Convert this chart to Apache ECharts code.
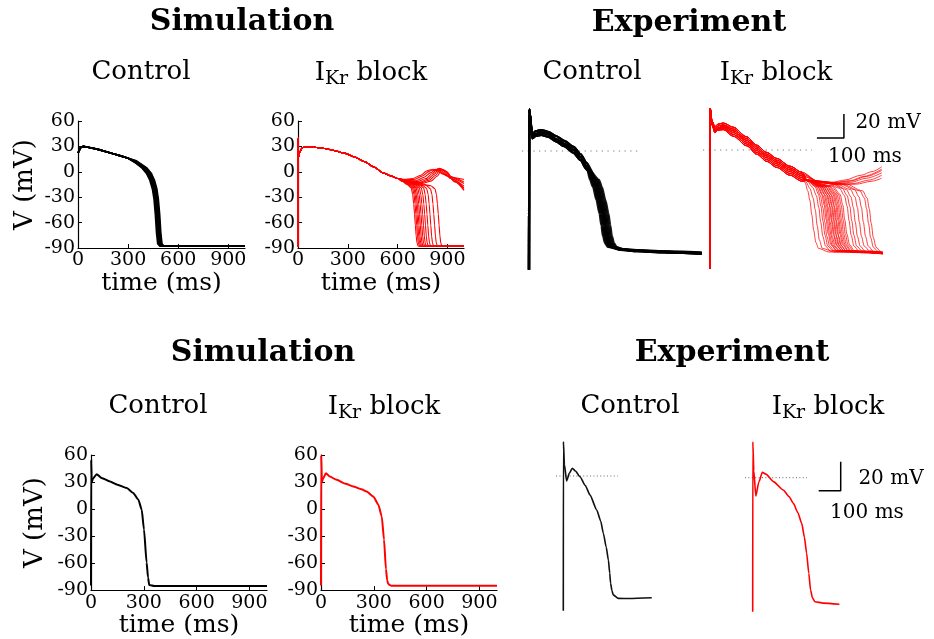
<!DOCTYPE html>
<html>
<head>
<meta charset="utf-8">
<script src="https://cdn.jsdelivr.net/npm/echarts@6/dist/echarts.min.js"></script>
<style>
  html, body { margin: 0; padding: 0; background: #fff; }
  #main { width: 934px; height: 639px; }
</style>
</head>
<body>
<div id="main"></div>
<script>
// ---------- Simulation axes ----------
const simTimeTicks = [0, 300, 600, 900];
const simVoltTicks = [-90, -60, -30, 0, 30, 60];

// ---------- Upper row: simulation, control (ensemble, black) ----------
const simCtrlPlateau = [[0,22],[4,24],[15,28.5],[30,30],[60,29],[120,26.5],[200,22],[260,18.5],[300,16]];
const simCtrlRepol = [
  [[340,11],[380,5],[410,-2],[430,-10],[445,-20],[455,-32],[463,-50],[470,-72],[477,-85],[490,-88],[1000,-88]],
  [[340,11.5],[385,5],[415,-2],[435,-10],[450,-20],[460,-32],[468,-50],[475,-72],[482,-85],[495,-88],[1000,-88]],
  [[340,12],[390,5],[420,-2],[440,-10],[455,-20],[465,-32],[473,-50],[480,-72],[487,-85],[500,-88],[1000,-88]],
  [[345,12],[395,5],[425,-2],[445,-10],[460,-20],[469,-32],[477,-50],[484,-72],[491,-85],[505,-88],[1000,-88]],
  [[345,12.5],[400,5],[430,-2],[449,-10],[464,-20],[473,-32],[481,-50],[488,-72],[495,-85],[508,-88],[1000,-88]],
  [[350,12.5],[405,5],[435,-2],[453,-10],[468,-20],[477,-32],[485,-50],[492,-72],[499,-85],[512,-88],[1000,-88]],
  [[350,13],[410,5],[440,-2],[458,-10],[472,-20],[481,-32],[489,-50],[496,-72],[503,-85],[515,-88],[1000,-88]]
];

// ---------- Upper row: simulation, IKr block (ensemble, red) ----------
const simBlockPlateau = [[0,-88],[1,40],[4,18],[10,23],[25,28.5],[50,29.5],[100,29],[160,27.5],[220,25],[280,22],[340,17.5],[400,12],[455,6],[510,-1],[560,-5],[600,-8]];
const simBlockEAD = [
  [[640,-9],[690,-8],[740,-4],[775,1],[800,2.5],[830,1.5],[880,-3],[940,-7],[1000,-9]],
  [[640,-9.5],[700,-9],[750,-5],[790,0.5],[815,3],[845,1.5],[900,-5],[1000,-12]],
  [[640,-10],[710,-10.5],[760,-6.5],[800,-1],[830,3],[860,1.5],[910,-6],[1000,-14]],
  [[640,-10.5],[720,-11.5],[770,-8],[810,-2],[840,3.5],[870,2],[920,-8],[1000,-17]],
  [[640,-11],[730,-12.5],[780,-9],[820,-3],[850,4],[880,2],[930,-9],[1000,-19]],
  [[640,-11],[740,-13],[790,-10],[830,-4],[858,3.5],[888,1],[940,-11],[1000,-21]],
  [[640,-11.5],[750,-13.5],[800,-11],[840,-5],[865,3],[895,0],[945,-12],[1000,-22]]
];
const simBlockRepol = [
  [[630,-11.5],[657,-15],[682,-19],[691,-27],[697,-38],[702,-50],[707,-63],[712,-76],[717,-84],[724,-88],[1000,-88]],
  [[630,-11.5],[665,-15],[690,-19],[699,-27],[705,-38],[710,-50],[715,-63],[720,-76],[725,-84],[732,-88],[1000,-88]],
  [[630,-11],[672,-15],[697,-19],[706,-27],[712,-38],[717,-50],[722,-63],[727,-76],[732,-84],[739,-88],[1000,-88]],
  [[635,-11],[679,-15],[704,-19],[713,-27],[719,-38],[724,-50],[729,-63],[734,-76],[739,-84],[746,-88],[1000,-88]],
  [[640,-11],[687,-15],[712,-19],[721,-27],[727,-38],[732,-50],[737,-63],[742,-76],[747,-84],[754,-88],[1000,-88]],
  [[645,-11],[696,-15],[721,-19],[730,-27],[736,-38],[741,-50],[746,-63],[751,-76],[756,-84],[763,-88],[1000,-88]],
  [[650,-11.5],[706,-15],[731,-19],[740,-27],[746,-38],[751,-50],[756,-63],[761,-76],[766,-84],[773,-88],[1000,-88]],
  [[660,-12],[718,-15.5],[743,-19],[752,-27],[758,-38],[763,-50],[768,-63],[773,-76],[778,-84],[785,-88],[1000,-88]],
  [[670,-12],[732,-15.5],[757,-19],[766,-27],[772,-38],[777,-50],[782,-63],[787,-76],[792,-84],[799,-88],[1000,-88]],
  [[680,-12.5],[750,-16],[775,-19.5],[784,-27],[790,-38],[795,-50],[800,-63],[805,-76],[810,-84],[817,-88],[1000,-88]],
  [[700,-13],[773,-16],[798,-20],[807,-27],[813,-38],[818,-50],[823,-63],[828,-76],[833,-84],[840,-88],[1000,-88]],
  [[720,-13],[800,-16.5],[825,-20],[834,-27],[840,-38],[845,-50],[850,-63],[855,-76],[860,-84],[867,-88],[1000,-88]]
];

// ---------- Upper row: recorded, control (ensemble, black) ----------
const expCtrlOnset = [
  [[0,-99],[0.6,35],[12,12],[25,14],[45,15.5],[70,14],[100,10],[130,6],[165,1],[190,-5],[214,-13]],
  [[0,-99],[0.6,35],[12,14],[25,16.5],[45,17.5],[70,16],[100,12.5],[130,8.5],[165,3.5],[190,-2.5],[214,-10]],
  [[0,-99],[0.6,35],[12,10.5],[25,12.5],[45,13.5],[70,12],[100,8],[130,4],[165,-1.5],[190,-7.5],[214,-15.5]]
];
const expCtrlRepol = [
  [[226,-24],[237,-30],[250,-41],[261,-52],[268,-62],[274,-71],[282,-77],[292,-80],[340,-82],[400,-83],[500,-84],[640,-85]],
  [[230,-24],[241,-30],[254,-41],[265,-52],[272,-62],[278,-71],[286,-77],[296,-80],[340,-82.5],[400,-83],[500,-84.5],[640,-85.5]],
  [[234,-24],[245,-30],[258,-41],[269,-52],[276,-62],[282,-71],[290,-77],[300,-80],[340,-82],[400,-83.5],[500,-84],[640,-85]],
  [[237,-24],[248,-30],[261,-41],[272,-52],[279,-62],[285,-71],[293,-77],[303,-80],[340,-81.5],[400,-82.5],[500,-83.5],[640,-84.5]],
  [[240,-24],[251,-30],[264,-41],[275,-52],[282,-62],[288,-71],[296,-77],[306,-80],[340,-82],[400,-83],[500,-84],[640,-85]],
  [[243,-24],[254,-30],[267,-41],[278,-52],[285,-62],[291,-71],[299,-77],[309,-80],[340,-82.5],[400,-83.5],[500,-84.5],[640,-85.5]],
  [[246,-24],[257,-30],[270,-41],[281,-52],[288,-62],[294,-71],[302,-77],[312,-80],[340,-82],[400,-83],[500,-84],[640,-85]],
  [[250,-24],[261,-30],[274,-41],[285,-52],[292,-62],[298,-71],[306,-77],[316,-80],[345,-82],[400,-83],[500,-84],[640,-85.5]],
  [[254,-24],[265,-30],[278,-41],[289,-52],[296,-62],[302,-71],[310,-77],[320,-80],[350,-82],[400,-83],[500,-84],[640,-85]],
  [[259,-24],[270,-30],[283,-41],[294,-52],[301,-62],[307,-71],[315,-77],[325,-80],[355,-82.5],[400,-83.5],[500,-84.5],[640,-85.5]]
];

// ---------- Upper row: recorded, IKr block (ensemble, red) ----------
// onset + plateau variants, ordered from lower to higher plateau
const expBlockOnset = [
  [[0,-99],[0.6,35],[8,21],[18,15],[30,17],[49,18],[86,13],[136,5],[173,-2],[210,-8],[247,-13],[296,-19.5],[340,-24.5]],
  [[0,-99],[0.6,35],[8,20.5],[18,14.5],[30,16.5],[49,17],[86,11.5],[136,3.5],[173,-3.5],[210,-9.5],[247,-14.5],[296,-21],[340,-26]],
  [[0,-99],[0.6,35],[8,21.5],[18,15.5],[30,17.5],[49,19],[86,14.5],[136,6.5],[173,-0.5],[210,-6.5],[247,-11.5],[296,-18],[340,-23]],
  [[0,-99],[0.6,35],[8,22],[18,16.5],[30,18.5],[49,20],[86,16],[136,8],[173,1],[210,-5],[247,-10],[296,-16.5],[340,-21.5]],
  [[0,-99],[0.6,35],[8,23],[18,18],[30,20],[49,21],[86,17.5],[136,9.5],[173,2.5],[210,-3.5],[247,-8.5],[296,-15],[340,-20]],
  [[0,-99],[0.6,35],[8,24],[18,19.5],[30,21.5],[49,22.5],[86,19],[136,11],[173,4],[210,-2],[247,-7],[296,-13.5],[340,-18.5]]
];
const expBlockRepol = [
  [[352,-27],[362,-34],[370,-42],[377,-54],[384,-67],[392,-77],[402,-82],[440,-85],[640,-86]],
  [[355,-26.5],[370,-32],[382,-40],[390,-50],[397,-63],[405,-75],[416,-82],[460,-85],[640,-86.5]],
  [[360,-26],[380,-31],[394,-38],[403,-48],[410,-60],[418,-72],[428,-80],[445,-84],[640,-86]],
  [[360,-25.5],[388,-30],[402,-37],[411,-47],[418,-59],[426,-71],[436,-80],[455,-84],[640,-85.5]],
  [[360,-25.5],[395,-31],[409,-38],[418,-48],[425,-60],[433,-72],[443,-80],[462,-84.5],[640,-86]],
  [[360,-25],[398,-30],[414,-37],[423,-46],[430,-58],[438,-70],[448,-79],[468,-84],[640,-86.5]],
  [[360,-25.5],[402,-31],[419,-38],[428,-47],[435,-59],[443,-71],[453,-80],[472,-84.5],[640,-86]],
  [[360,-25],[405,-30],[423,-37],[433,-47],[440,-59],[448,-71],[458,-80],[478,-84],[640,-85.5]],
  [[360,-25.5],[410,-31],[428,-38],[438,-48],[445,-60],[453,-72],[463,-80],[482,-84.5],[640,-86]],
  [[360,-25],[412,-30],[432,-37],[442,-46],[449,-58],[457,-70],[467,-79],[488,-84],[640,-86.5]],
  [[360,-25.5],[416,-31],[436,-38],[446,-48],[453,-60],[461,-72],[471,-80],[490,-84.5],[640,-86]],
  [[360,-25],[418,-30],[440,-37],[450,-46],[457,-58],[465,-70],[475,-79],[495,-84],[640,-85.5]],
  [[360,-25.5],[422,-31],[444,-38],[454,-48],[461,-60],[469,-72],[479,-80],[498,-84.5],[640,-86]],
  [[360,-25],[425,-30],[448,-37],[458,-46],[465,-58],[473,-70],[483,-79],[503,-84],[640,-86.5]],
  [[360,-25.5],[430,-31],[452,-38],[462,-48],[469,-60],[477,-72],[487,-80],[506,-84.5],[640,-86]],
  [[360,-25],[432,-30],[456,-37],[466,-46],[473,-58],[481,-70],[491,-79],[511,-84],[640,-85.5]],
  [[360,-25.5],[436,-30.5],[460,-37],[470,-46],[477,-58],[485,-70],[495,-79],[514,-84.5],[640,-86]],
  [[360,-25],[440,-30],[465,-37],[475,-46],[482,-58],[490,-70],[500,-79],[520,-84],[640,-86.5]],
  [[360,-25.5],[445,-30.5],[470,-37],[480,-46],[487,-58],[495,-70],[505,-79],[524,-84.5],[640,-86]],
  [[360,-25],[450,-30],[476,-37],[486,-46],[493,-58],[501,-70],[511,-79],[530,-84],[640,-85.5]],
  [[360,-25.5],[455,-30],[482,-37],[492,-46],[499,-58],[507,-70],[517,-79],[536,-84.5],[640,-86]],
  [[360,-25],[440,-28],[480,-32],[498,-38],[508,-47],[515,-59],[523,-71],[533,-80],[552,-84.5],[640,-86]],
  [[360,-25.5],[450,-28],[490,-32],[508,-38],[518,-47],[525,-59],[533,-71],[543,-80],[562,-84],[640,-85.5]],
  [[360,-25],[460,-28.5],[505,-33],[522,-39],[531,-48],[538,-60],[546,-72],[556,-80],[575,-84.5],[640,-86]],
  [[360,-25.5],[470,-28.5],[520,-33],[537,-39],[546,-48],[553,-60],[561,-72],[571,-80],[590,-84],[640,-85.5]],
  [[360,-25],[480,-28],[535,-33],[552,-39],[561,-48],[568,-60],[576,-72],[586,-80],[605,-84.5],[640,-85.5]],
  [[360,-25.5],[490,-28.5],[555,-34],[572,-40],[580,-49],[587,-61],[595,-73],[605,-81],[622,-84.5],[640,-85]],
  [[360,-25],[500,-28],[565,-34],[582,-40],[590,-49],[597,-61],[605,-73],[615,-81],[632,-84.5],[640,-85]]
];
const expBlockEAD = [
  [[400,-26],[450,-27],[500,-25],[560,-21],[600,-18],[636,-14]],
  [[400,-26],[460,-27.5],[520,-26],[580,-22],[636,-17]],
  [[400,-26.5],[460,-28],[520,-27],[580,-23.5],[636,-19]],
  [[410,-27],[470,-28.5],[530,-28],[590,-25],[636,-21]],
  [[410,-27],[480,-29],[540,-28.5],[600,-26],[636,-23.5]],
  [[400,-26],[460,-27],[520,-25.5],[570,-22],[636,-16]]
];

// ---------- Lower row: single beats ----------
const simCtrlBeat = [[0,-85],[1,55],[4,30],[12,34],[32,38.7],[60,34.5],[108,30.6],[150,27],[203,23.3],[240,17.8],[269,10.4],[288,-0.6],[301,-22.7],[316,-59.4],[324,-76],[331,-84.4],[360,-85.5],[1000,-85.5]];
const simBlockBeat = [[0,-85],[1,60],[5,30],[12,34],[28,39.8],[50,36],[89,32.4],[140,28],[183,25],[230,22],[259,19.6],[297,14],[326,4.9],[345,-8],[358,-33.7],[369,-66.8],[376,-79],[382,-83.3],[400,-85.3],[1000,-85.3]];
const expCtrlBeat = [[0,-93],[0.5,23.7],[5,8],[15,-3.4],[28,2],[41,5.3],[55,3.5],[76,-0.5],[100,-6.5],[121,-13],[152,-23.4],[170,-31],[182,-39.5],[195,-49],[205,-58],[211,-67],[215,-74],[221,-79],[227,-82],[250,-84.4],[300,-84.5],[402,-84]];
const expBlockBeat = [[0,-92.4],[0.5,24.8],[5,5],[14,-12.6],[28,-3],[44,3.7],[60,2.5],[94,-2.7],[139,-8.5],[165,-13],[185,-17.7],[205,-24],[223,-31.5],[235,-41],[245,-52],[255,-66],[263,-77.5],[272,-83],[283,-85.5],[320,-86.5],[394,-87.3]];

// Zero-voltage guides and scale bars (ms, mV)
const zeroGuideTop = [[[-26,0],[404,0]], [[-26,0],[378,0]]];
const zeroGuideBottom = [[[-33,0],[248,0]], [[-35,0],[247,0]]];
const scaleBarTop = [[396,10],[496,10],[496,30]];
const scaleBarBottom = [[300,-9],[400,-9],[400,11]];

const FONT = '"DejaVu Serif", serif';
const RED = '#ff0000';

// ---------- Grids ----------
const grids = [
  { left: 78,    top: 121,   width: 167, height: 127 },
  { left: 298,   top: 121,   width: 166, height: 127 },
  { left: 518.2, top: 91,    width: 189, height: 192 },
  { left: 699.2, top: 90,    width: 189, height: 192 },
  { left: 91,    top: 455,   width: 176, height: 136 },
  { left: 321,   top: 455,   width: 176, height: 136 },
  { left: 554.5, top: 418,   width: 110, height: 203 },
  { left: 743.9, top: 419.7, width: 110, height: 203 }
];

function simX(gi) {
  return {
    type: 'value', gridIndex: gi, min: simTimeTicks[0], max: 1000, interval: 300,
    axisLine: { show: true, onZero: false, lineStyle: { color: '#000', width: 1.2 } },
    axisTick: { show: true, inside: true, length: 4, lineStyle: { color: '#000', width: 1 } },
    axisLabel: { color: '#000', fontFamily: FONT, fontSize: 19, margin: 3, showMaxLabel: false },
    splitLine: { show: false },
    name: 'time (ms)', nameLocation: 'middle', nameGap: 18,
    nameTextStyle: { color: '#000', fontFamily: FONT, fontSize: 25 }
  };
}
function simY(gi, named, gap) {
  return {
    type: 'value', gridIndex: gi, min: simVoltTicks[0], max: simVoltTicks[simVoltTicks.length - 1], interval: 30,
    axisLine: { show: true, onZero: false, lineStyle: { color: '#000', width: 1.2 } },
    axisTick: { show: true, inside: true, length: 4, lineStyle: { color: '#000', width: 1 } },
    axisLabel: { color: '#000', fontFamily: FONT, fontSize: 19, margin: 3 },
    splitLine: { show: false },
    name: named ? 'V (mV)' : '', nameLocation: 'middle', nameGap: gap,
    nameTextStyle: { color: '#000', fontFamily: FONT, fontSize: 26 }
  };
}
function hiddenX(gi, min, max) {
  return { type: 'value', gridIndex: gi, min, max, show: false, splitLine: { show: false } };
}
function hiddenY(gi, min, max) {
  return { type: 'value', gridIndex: gi, min, max, show: false, splitLine: { show: false } };
}

const xAxes = [
  simX(0), simX(1), hiddenX(2, -40, 660), hiddenX(3, -40, 660),
  simX(4), simX(5), hiddenX(6, -40, 460), hiddenX(7, -40, 460)
];
const yAxes = [
  simY(0, true, 40), simY(1, false, 0), hiddenY(2, -110, 50), hiddenY(3, -110, 50),
  simY(4, true, 43), simY(5, false, 0), hiddenY(6, -100, 40), hiddenY(7, -100, 40)
];

function trace(gi, pts, color, width, opacity, extra) {
  return Object.assign({
    type: 'line', xAxisIndex: gi, yAxisIndex: gi, data: pts,
    showSymbol: false, symbol: 'none', silent: true, animation: false,
    lineStyle: { color, width, opacity: opacity == null ? 1 : opacity }
  }, extra || {});
}

const series = [];
// zero-voltage dotted guides (drawn beneath traces)
series.push(trace(2, zeroGuideTop[0], '#777', 1, 1, { lineStyle: { color: '#777', width: 1, type: [1.2, 4.5] }, z: 1 }));
series.push(trace(3, zeroGuideTop[1], '#777', 1, 1, { lineStyle: { color: '#777', width: 1, type: [1.2, 4.5] }, z: 1 }));
series.push(trace(6, zeroGuideBottom[0], '#666', 1, 1, { lineStyle: { color: '#666', width: 1, type: [1, 2.4] }, z: 1 }));
series.push(trace(7, zeroGuideBottom[1], '#666', 1, 1, { lineStyle: { color: '#666', width: 1, type: [1, 2.4] }, z: 1 }));

// upper simulations
simCtrlRepol.forEach(t => series.push(trace(0, simCtrlPlateau.concat(t), '#000', 1.6)));
simBlockEAD.forEach(t => series.push(trace(1, simBlockPlateau.concat(t), RED, 1.1, 1, { smooth: 0.3, smoothMonotone: 'x' })));
simBlockRepol.forEach(t => series.push(trace(1, simBlockPlateau.concat(t), RED, 1.1, 1, { smooth: 0.2, smoothMonotone: 'x' })));

// upper recordings
expCtrlRepol.forEach((t, i) => series.push(trace(2, expCtrlOnset[i % 3].concat(t), '#000', 2.2, 0.9, { smooth: 0.25, smoothMonotone: 'x' })));
expBlockRepol.forEach((t, i) => series.push(trace(3, expBlockOnset[i % 6].concat(t), RED, 0.9, 0.85, { smooth: 0.3, smoothMonotone: 'x' })));
expBlockEAD.forEach((t, i) => series.push(trace(3, expBlockOnset[3 + (i % 3)].concat(t), RED, 0.9, 0.85, { smooth: 0.3, smoothMonotone: 'x' })));

// lower row
series.push(trace(4, simCtrlBeat, '#000', 2, 1, { smooth: 0.2, smoothMonotone: 'x' }));
series.push(trace(5, simBlockBeat, RED, 2, 1, { smooth: 0.2, smoothMonotone: 'x' }));
series.push(trace(6, expCtrlBeat, '#111', 1.6, 1, { smooth: 0.2, smoothMonotone: 'x' }));
series.push(trace(7, expBlockBeat, RED, 1.6, 1, { smooth: 0.2, smoothMonotone: 'x' }));

// scale bars
series.push(trace(3, scaleBarTop, '#000', 1.5));
series.push(trace(7, scaleBarBottom, '#000', 1.5));

// ---------- Text ----------
function label(x, y, text, size, bold) {
  return {
    type: 'text', x, y, silent: true, z: 100,
    style: {
      text, fill: '#000', fontFamily: FONT, fontSize: size, fontWeight: bold ? 'bold' : 'normal',
      textAlign: 'center', textVerticalAlign: 'middle'
    }
  };
}
function ikrLabel(x, y) {
  return {
    type: 'text', x, y, silent: true, z: 100,
    style: {
      text: '{m|I}{s|Kr}{m| block}',
      textAlign: 'center', textVerticalAlign: 'middle',
      rich: {
        m: { fill: '#000', fontFamily: FONT, fontSize: 26, lineHeight: 32 },
        s: { fill: '#000', fontFamily: FONT, fontSize: 19, lineHeight: 13, verticalAlign: 'bottom', padding: [5, 0, 0, 0] }
      }
    }
  };
}

const graphics = [
  label(242, 22, 'Simulation', 30, true),
  label(689, 23, 'Experiment', 30, true),
  label(141, 72, 'Control', 26),
  ikrLabel(371, 73),
  label(592, 72, 'Control', 26),
  ikrLabel(776, 73),
  label(888, 123, '20 mV', 20),
  label(865, 157, '100 ms', 20),

  label(263, 353, 'Simulation', 30, true),
  label(732, 353, 'Experiment', 30, true),
  label(158, 406, 'Control', 26),
  ikrLabel(384, 407),
  label(630, 406, 'Control', 26),
  ikrLabel(828, 407),
  label(891, 479, '20 mV', 20),
  label(867, 513, '100 ms', 20)
];

const chart = echarts.init(document.getElementById('main'), null, { renderer: 'canvas' });
chart.setOption({
  animation: false,
  backgroundColor: '#fff',
  grid: grids.map(g => Object.assign({ containLabel: false }, g)),
  xAxis: xAxes,
  yAxis: yAxes,
  series,
  graphic: graphics
});
</script>
</body>
</html>
